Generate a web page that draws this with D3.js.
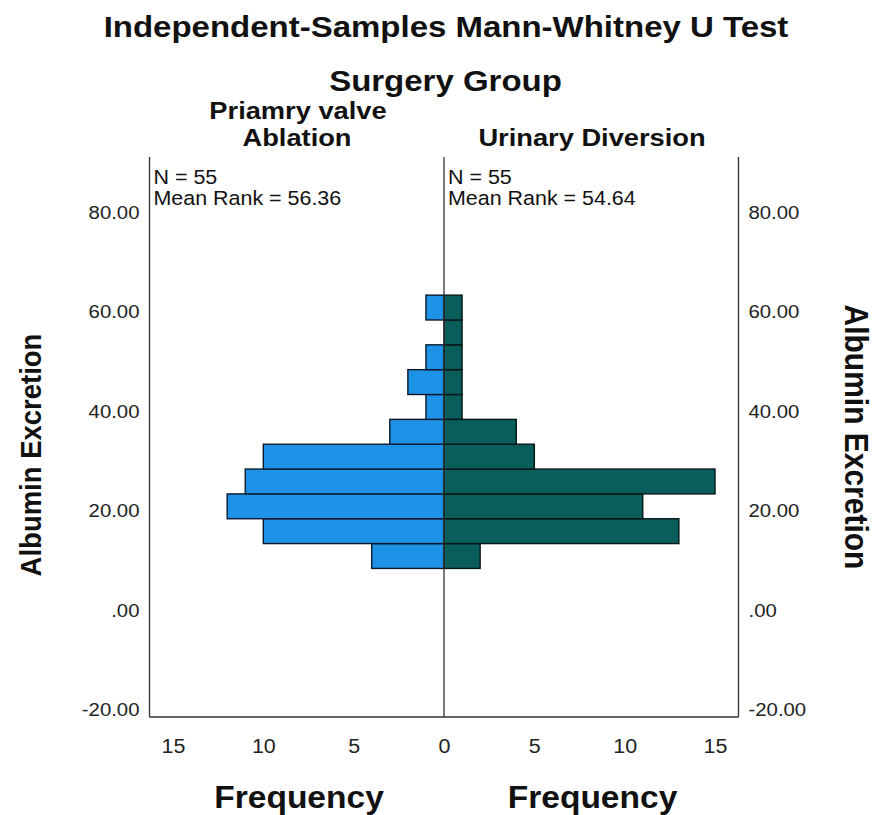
<!DOCTYPE html>
<html>
<head>
<meta charset="utf-8">
<script src="https://cdn.jsdelivr.net/npm/d3@7"></script>
<style>
  body { margin: 0; background: #fff; }
  svg { display: block; font-family: Arial, "Liberation Sans", sans-serif; }
</style>
</head>
<body>
<div id="chart"></div>
<script>
// histogram bins of Albumin Excretion (lower edge of first bin, bin width)
const binStart = 8.4;
const binWidth = 5;
// counts per bin, lowest bin first
const ablationCounts = [4, 10, 12, 11, 10, 3, 1, 2, 1, 0, 1];
const diversionCounts = [2, 13, 11, 15, 5, 4, 1, 1, 1, 1, 1];

const groupStats = [
  ["N = 55", "Mean Rank = 56.36"],
  ["N = 55", "Mean Rank = 54.64"],
];
const yTicks = [-20, 0, 20, 40, 60, 80];
const xTicksLeft = [0, 5, 10, 15];
const xTicksRight = [5, 10, 15];

const width = 880;
const height = 815;
const SX = 1.1; // the picture's text is a bit stretched sideways

const svg = d3
  .select("#chart")
  .append("svg")
  .attr("width", width)
  .attr("height", height);

const plotLeft = 149.5, plotRight = 738.5, mid = 444, plotTop = 157, plotBottom = 717;

const y = d3.scaleLinear().domain([-21.5, 91.2]).range([plotBottom, plotTop]);
const xL = d3.scaleLinear().domain([0, 16.3]).range([mid, plotLeft]);
const xR = d3.scaleLinear().domain([0, 16.3]).range([mid, plotRight]);

function label(g, txt, x, yy, size, weight, anchor, rot) {
  return g
    .append("text")
    .attr("transform", `translate(${x},${yy}) scale(${SX},1)` + (rot ? ` rotate(${rot})` : ""))
    .attr("text-anchor", anchor)
    .style("font-size", size + "px")
    .style("font-weight", weight)
    .attr("fill", "#111")
    .text(txt);
}

// titles
label(svg, "Independent-Samples Mann-Whitney U Test", 446, 37, 30, "bold", "middle");
label(svg, "Surgery Group", 445.5, 91, 30, "bold", "middle");
label(svg, "Priamry valve", 298, 119, 24.8, "bold", "middle");
label(svg, "Ablation", 297, 146, 24.8, "bold", "middle");
label(svg, "Urinary Diversion", 592, 146, 24.8, "bold", "middle");

// bars
const bins = ablationCounts.map((c, i) => ({
  lo: binStart + i * binWidth,
  hi: binStart + (i + 1) * binWidth,
  a: c,
  d: diversionCounts[i],
}));

svg
  .append("g")
  .selectAll("rect")
  .data(bins.filter((b) => b.a > 0))
  .join("rect")
  .attr("x", (d) => xL(d.a))
  .attr("y", (d) => y(d.hi))
  .attr("width", (d) => xL(0) - xL(d.a))
  .attr("height", (d) => y(d.lo) - y(d.hi))
  .attr("fill", "#1d92e6")
  .attr("stroke", "#0a1a2c")
  .attr("stroke-width", 1.4);

svg
  .append("g")
  .selectAll("rect")
  .data(bins.filter((b) => b.d > 0))
  .join("rect")
  .attr("x", xR(0))
  .attr("y", (d) => y(d.hi))
  .attr("width", (d) => xR(d.d) - xR(0))
  .attr("height", (d) => y(d.lo) - y(d.hi))
  .attr("fill", "#095d5a")
  .attr("stroke", "#051716")
  .attr("stroke-width", 1.4);

// frame lines
const frame = svg.append("g").attr("stroke", "#333").attr("stroke-width", 1.3);
[plotLeft, mid, plotRight].forEach((x) =>
  frame.append("line").attr("x1", x).attr("x2", x).attr("y1", plotTop).attr("y2", plotBottom)
);
frame
  .append("line")
  .attr("x1", plotLeft)
  .attr("x2", plotRight)
  .attr("y1", plotBottom)
  .attr("y2", plotBottom);

// axes
const fmtY = (d) => (d === 0 ? ".00" : d3.format(".2f")(d).replace("−", "-"));

function styleY(g, dx) {
  g.select(".domain").remove();
  g.selectAll("text")
    .attr("x", dx / SX)
    .attr("transform", `scale(${SX},1)`)
    .style("font-size", "18.5px")
    .style("font-family", "Arial, 'Liberation Sans', sans-serif")
    .attr("fill", "#222");
}

svg
  .append("g")
  .attr("transform", `translate(${plotLeft},0)`)
  .call(d3.axisLeft(y).tickValues(yTicks).tickSize(0).tickPadding(10).tickFormat(fmtY))
  .call((g) => styleY(g, -10));

svg
  .append("g")
  .attr("transform", `translate(${plotRight},0)`)
  .call(d3.axisRight(y).tickValues(yTicks).tickSize(0).tickPadding(10).tickFormat(fmtY))
  .call((g) => styleY(g, 10));

function styleX(g) {
  g.select(".domain").remove();
  g.selectAll("text")
    .attr("y", 0)
    .attr("dy", null)
    .attr("transform", `scale(${SX},1)`)
    .style("font-size", "19.5px")
    .style("font-family", "Arial, 'Liberation Sans', sans-serif")
    .attr("fill", "#222");
}

svg
  .append("g")
  .attr("transform", `translate(0,753)`)
  .call(d3.axisBottom(xL).tickValues(xTicksLeft).tickSize(0).tickFormat(d3.format("d")))
  .call(styleX);

svg
  .append("g")
  .attr("transform", `translate(0,753)`)
  .call(d3.axisBottom(xR).tickValues(xTicksRight).tickSize(0).tickFormat(d3.format("d")))
  .call(styleX);

// stats text
groupStats.forEach((lines, i) => {
  const x0 = i === 0 ? plotLeft + 4 : mid + 4;
  lines.forEach((t, j) => label(svg, t, x0, 184 + j * 21, 19.5, "normal", "start"));
});

// axis titles
label(svg, "Frequency", 299, 808, 30.5, "bold", "middle");
label(svg, "Frequency", 592.5, 808, 30.5, "bold", "middle");
label(svg, "Albumin Excretion", 41, 455, 27.5, "bold", "middle", -90);
label(svg, "Albumin Excretion", 845, 437, 30, "bold", "middle", 90);
</script>
</body>
</html>
